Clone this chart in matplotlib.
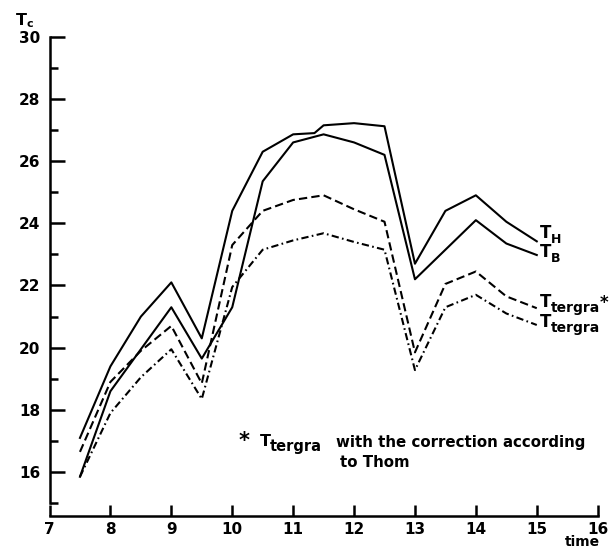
import matplotlib
matplotlib.use("Agg")
import matplotlib.pyplot as plt
from matplotlib.ticker import MultipleLocator

# time of day (hours) and temperatures (degC)
times = [7.5, 8, 8.5, 9, 9.5, 10, 10.5, 11, 11.5, 12, 12.5, 13, 13.5, 14, 14.5, 15]
# T_H has an extra kink drawn just before 11.5
times_h = [7.5, 8, 8.5, 9, 9.5, 10, 10.5, 11, 11.35, 11.5, 12, 12.5, 13, 13.5, 14, 14.5, 15]
t_h = [17.1, 19.4, 21.0, 22.1, 20.3, 24.4, 26.3, 26.86, 26.9, 27.15, 27.22, 27.12,
       22.7, 24.4, 24.9, 24.05, 23.42]
t_b = [15.85, 18.6, 19.95, 21.3, 19.65, 21.3, 25.35, 26.6, 26.86, 26.6, 26.2,
       22.2, 23.15, 24.1, 23.35, 22.98]
t_tergra_corr = [16.65, 18.9, 19.9, 20.7, 18.85, 23.3, 24.4, 24.75, 24.9, 24.45, 24.05,
                 19.85, 22.05, 22.45, 21.65, 21.27]
t_tergra = [15.85, 17.9, 19.05, 19.95, 18.35, 21.95, 23.15, 23.45, 23.68, 23.4, 23.15,
            19.28, 21.3, 21.7, 21.1, 20.73]

x_ticks = list(range(7, 17))
y_ticks = list(range(16, 31, 2))

plt.rcParams["font.family"] = "DejaVu Sans"
plt.rcParams["font.weight"] = "bold"
plt.rcParams["mathtext.fontset"] = "dejavusans"
plt.rcParams["mathtext.default"] = "bf"

fig = plt.figure(figsize=(6.12, 5.5), dpi=100)
ax = fig.add_axes([0.0809, 0.0851, 0.8957, 0.8482])
ax.set_xlim(7, 16)
ax.set_ylim(15, 30)

ax.plot(times_h, t_h, color="black", lw=1.5)
ax.plot(times, t_b, color="black", lw=1.5)
ax.plot(times, t_tergra_corr, color="black", lw=1.5, dashes=(4, 2))
ax.plot(times, t_tergra, color="black", lw=1.5, dashes=(3.5, 1.6, 0.8, 1.6))


def t_label(x, y, sub, size, sub_size, star=False):
    """Big T with a hand-lettered sized subscript (and optional star)."""
    ax.text(x, y, "T", fontsize=size, va="baseline", ha="left")
    s = ax.annotate(sub, xy=(x, y), xytext=(0.66 * size, -0.3 * size),
                    textcoords="offset points", fontsize=sub_size,
                    va="baseline", ha="left")
    if star:
        ax.annotate("*", xy=(1, 1), xycoords=s, xytext=(0, 5),
                    textcoords="offset points", fontsize=size,
                    va="top", ha="left")


# curve names at the right-hand ends
t_label(15.05, t_h[-1] + 0.12, "H", 12, 9)
t_label(15.05, t_b[-1] - 0.05, "B", 12, 9)
t_label(15.05, t_tergra_corr[-1] + 0.05, "tergra", 12, 10, star=True)
t_label(15.05, t_tergra[-1] - 0.05, "tergra", 12, 10)

# footnote
ax.text(10.2, 17.0, "*", fontsize=15, ha="center", va="center")
t_label(10.45, 16.83, "tergra", 11.5, 10.5)
ax.text(11.7, 16.8, "with the correction according", fontsize=10.8, va="baseline")
ax.text(11.77, 16.17, "to Thom", fontsize=10.8, va="baseline")

# axes: detached, inward ticks
for side in ("top", "right"):
    ax.spines[side].set_visible(False)
ax.spines["left"].set_bounds(15, 30)
ax.spines["bottom"].set_bounds(7, 16)
ax.spines["bottom"].set_position(("outward", 9.4))
for side in ("left", "bottom"):
    ax.spines[side].set_linewidth(1.8)

ax.set_xticks(x_ticks)
ax.set_yticks(y_ticks)
ax.yaxis.set_minor_locator(MultipleLocator(1))
ax.tick_params(axis="both", which="both", direction="in", width=1.8, labelsize=11)
ax.tick_params(axis="y", which="major", length=10.5, pad=6.5)
ax.tick_params(axis="y", which="minor", length=6)
ax.tick_params(axis="x", which="major", length=8, pad=4)

fig.text(15 / 612, 1 - 25 / 550, r"T$_c$", fontsize=11.5, va="baseline")
fig.text(600 / 612, 1.5 / 550, "time", fontsize=10, ha="right", va="bottom")

fig.savefig("out.png", dpi=100)
